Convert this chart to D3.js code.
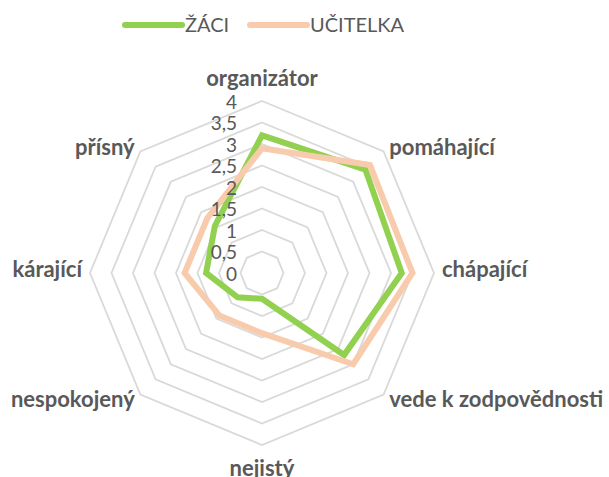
<!DOCTYPE html>
<html>
<head>
<meta charset="utf-8">
<script src="https://cdn.jsdelivr.net/npm/d3@7"></script>
<style>
  body { margin: 0; background: #fff; }
  text { font-family: Lato, "Open Sans", sans-serif; fill: #595959; }
</style>
</head>
<body>
<div id="chart"></div>
<script>
// categories and values
const categories = ["organizátor", "pomáhající", "chápající", "vede k zodpovědnosti", "nejistý", "nespokojený", "kárající", "přísný"];
const seriesNames = ["ŽÁCI", "UČITELKA"];
const zaci = [3.2, 3.4, 3.25, 2.7, 0.6, 0.8, 1.3, 1.55];
const ucitelka = [2.9, 3.55, 3.5, 3.0, 1.4, 1.4, 1.8, 1.8];
const tickValues = [0, 0.5, 1, 1.5, 2, 2.5, 3, 3.5, 4];
const colors = ["#92D050", "#F8CBAD"];

const width = 609, height = 477;
const cx = 262, cy = 273, R = 172;

var svg = d3.select("#chart")
    .append("svg")
        .attr("width", width)
        .attr("height", height);

var r = d3.scaleLinear().domain([0, 4]).range([0, R]);
var angle = d3.scalePoint().domain(categories).range([0, 2 * Math.PI * 7 / 8]);

var g = svg.append("g")
    .attr("transform", "translate(" + cx + "," + cy + ")");

// grid rings
var ring = d3.lineRadial()
    .angle(function(d) { return angle(d); })
    .curve(d3.curveLinearClosed);

g.selectAll(".ring")
    .data(tickValues.slice(1))
    .join("path")
    .attr("class", "ring")
    .attr("d", function(t) { return ring.radius(r(t))(categories); })
    .attr("fill", "none")
    .attr("stroke", "#D9D9D9")
    .attr("stroke-width", 1.8);

// series (teacher drawn on top)
var line = d3.lineRadial()
    .angle(function(d, i) { return angle(categories[i]); })
    .radius(function(d) { return r(d); })
    .curve(d3.curveLinearClosed);

[zaci, ucitelka].forEach(function(vals, k) {
    g.append("path")
        .attr("d", line(vals))
        .attr("fill", "none")
        .attr("stroke", colors[k])
        .attr("stroke-width", 6)
        .attr("stroke-linejoin", "miter");
});

// tick labels
g.selectAll(".tick")
    .data(tickValues)
    .join("text")
    .attr("class", "tick")
    .attr("x", -25)
    .attr("y", function(d) { return -r(d) + 1; })
    .attr("dy", "0.35em")
    .attr("text-anchor", "end")
    .style("font-size", "19px")
    .text(function(d) { return String(d).replace(".", ","); });

// category labels
g.selectAll(".cat")
    .data(categories)
    .join("text")
    .attr("class", "cat")
    .attr("x", function(d) {
        var s = Math.sin(angle(d));
        return Math.abs(s) < 0.01 ? 0 : (R + 8) * s;
    })
    .attr("y", function(d) {
        var a = angle(d), s = Math.sin(a), c = Math.cos(a);
        if (Math.abs(c) < 0.01) return -4;
        var off = Math.abs(s) < 0.01 ? 23 : 6;
        return -(R + off) * c;
    })
    .attr("dy", "0.35em")
    .attr("text-anchor", function(d) {
        var s = Math.sin(angle(d));
        return Math.abs(s) < 0.01 ? "middle" : (s > 0 ? "start" : "end");
    })
    .style("font-size", "22px")
    .style("font-weight", "bold")
    .text(function(d) { return d; });

// legend
var legend = svg.append("g");
var lx = [125, 250];
seriesNames.forEach(function(name, k) {
    legend.append("line")
        .attr("x1", lx[k]).attr("x2", lx[k] + 57)
        .attr("y1", 25).attr("y2", 25)
        .attr("stroke", colors[k])
        .attr("stroke-width", 6)
        .attr("stroke-linecap", "round");
    legend.append("text")
        .attr("x", lx[k] + 60)
        .attr("y", 25)
        .attr("dy", "0.35em")
        .style("font-size", "20px")
        .text(name);
});
</script>
</body>
</html>
